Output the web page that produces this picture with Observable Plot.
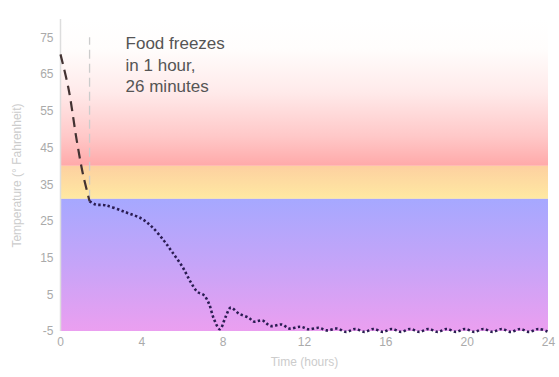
<!DOCTYPE html>
<html>
<head>
<meta charset="utf-8">
<script src="https://cdn.jsdelivr.net/npm/d3@7"></script>
<script src="https://cdn.jsdelivr.net/npm/@observablehq/plot@0.6"></script>
<style>
  html, body { margin: 0; padding: 0; background: #fff; }
  #chart svg { display: block; font-family: "Liberation Sans", Arial, sans-serif; }
</style>
</head>
<body>
<div id="chart"></div>
<script>
// Temperature zones (° F)
const zoneNames = ["warm", "chill", "frozen"];
const zoneLow = [40, 31, -5];
const zoneHigh = [80, 40, 31];

// Cooling phase (dashed): hours, temperature
const coolHours = [0, 0.4, 0.8, 1.1, 1.43];
const coolTemps = [70.5, 61, 47, 38, 30.5];

// Frozen phase (dotted): hours, temperature
const frozenHours = [1.43, 1.72, 2.2, 3.2, 4.0, 4.5, 5.08, 5.5, 6.0, 6.4, 6.73, 7.05, 7.3, 7.54, 7.84, 8.12, 8.37, 8.77, 9.27, 9.5, 9.93, 10.33, 10.9, 11.24, 11.81, 12.2, 12.71, 13.1, 13.6, 14.05, 14.5, 14.95, 15.4, 15.85, 16.3, 16.75, 17.2, 17.65, 18.1, 18.55, 19.0, 19.45, 19.9, 20.35, 20.8, 21.25, 21.7, 22.15, 22.6, 23.05, 23.5, 23.95];
const frozenTemps = [30.5, 29.6, 29.4, 27.5, 25.7, 23.5, 19.8, 16.6, 12.6, 8.5, 5.8, 4.9, 2.6, -1.5, -4.4, -1.0, 1.5, -0.1, -1.3, -2.3, -2.0, -3.5, -3.1, -4.2, -3.7, -4.4, -4.0, -4.7, -4.2, -5.1, -4.3, -5.1, -4.3, -5.1, -4.3, -5.1, -4.3, -5.1, -4.3, -5.1, -4.3, -5.1, -4.3, -5.1, -4.3, -5.1, -4.3, -5.1, -4.3, -5.1, -4.3, -5.0];

// Freeze moment and annotation
const freezeHour = 1.43;
const freezeSpan = [31, 75];
const noteText = "Food freezes\nin 1 hour,\n26 minutes";
const notePos = {x: 3.2, y: 76};

const xTicks = [0, 4, 8, 12, 16, 20, 24];
const yTicks = [-5, 5, 15, 25, 35, 45, 55, 65, 75];
const xLabel = "Time (hours)";
const yLabel = "Temperature (° Fahrenheit)";

const zones = zoneNames.map((name, i) => ({name, lo: zoneLow[i], hi: zoneHigh[i]}));
const cooling = coolHours.map((h, i) => ({h, t: coolTemps[i]}));
const frozen = frozenHours.map((h, i) => ({h, t: frozenTemps[i]}));

const gradFills = {warm: "url(#gWarm)", chill: "url(#gChill)", frozen: "url(#gFrozen)"};

function defsMark() {
  const defs = d3.create("svg:defs");
  const mk = (id, stops) => {
    const g = defs.append("linearGradient").attr("id", id)
      .attr("x1", 0).attr("y1", 0).attr("x2", 0).attr("y2", 1);
    stops.forEach(([o, c]) => g.append("stop").attr("offset", o).attr("stop-color", c));
  };
  mk("gWarm", [["0%", "#ffffff"], ["20%", "#fffdfc"], ["50%", "#ffeaea"], ["80%", "#ffc8c8"], ["100%", "#ffa9a9"]]);
  mk("gChill", [["0%", "#fdd0a0"], ["100%", "#ffe9a2"]]);
  mk("gFrozen", [["0%", "#a6a8ff"], ["50%", "#c6a4f8"], ["100%", "#eb9ff0"]]);
  return defs.node();
}

const chart = Plot.plot({
  width: 559,
  height: 377,
  marginLeft: 60,
  marginRight: 11,
  marginTop: 19,
  marginBottom: 46,
  style: {fontFamily: "'Liberation Sans', Arial, sans-serif", fontSize: "12px", background: "#fff"},
  x: {domain: [0, 24], ticks: xTicks},
  y: {domain: [-5, 80], ticks: yTicks},
  marks: [
    defsMark,
    Plot.rectY(zones, {x1: 0, x2: 24, y1: "lo", y2: "hi", fill: d => gradFills[d.name]}),
    Plot.ruleX([0], {stroke: "#dddddd", strokeWidth: 1.5}),
    Plot.ruleX([freezeHour], {y1: freezeSpan[0], y2: freezeSpan[1], stroke: "#cccccc", strokeWidth: 1.3, strokeDasharray: "9,5"}),
    Plot.line(cooling, {x: "h", y: "t", curve: "catmull-rom", stroke: "#433232", strokeWidth: 2.2, strokeDasharray: "10,6", strokeLinecap: "butt"}),
    Plot.line(frozen, {x: "h", y: "t", curve: "catmull-rom", stroke: "#2a1c52", strokeWidth: 2.6, strokeDasharray: "2.4,2.4", strokeLinecap: "butt"}),
    Plot.text([noteText], {x: notePos.x, y: notePos.y, textAnchor: "start", lineAnchor: "top", fontSize: 17, lineHeight: 1.25, fill: "#555555"}),
    Plot.axisX({ticks: xTicks, tickSize: 0, tickPadding: 6, label: null, fill: "#aaaaaa", fontSize: 12, tickFormat: d => String(d)}),
    Plot.axisY({ticks: yTicks, tickSize: 0, tickPadding: 7, label: null, fill: "#aaaaaa", fontSize: 12, tickFormat: d => String(d)}),
    Plot.text([xLabel], {frameAnchor: "bottom", dy: 34, fill: "#cccccc", fontSize: 12}),
    Plot.text([yLabel], {frameAnchor: "left", dx: -43, rotate: -90, textAnchor: "middle", fill: "#cccccc", fontSize: 12})
  ]
});
document.getElementById("chart").appendChild(chart);
</script>
</body>
</html>
